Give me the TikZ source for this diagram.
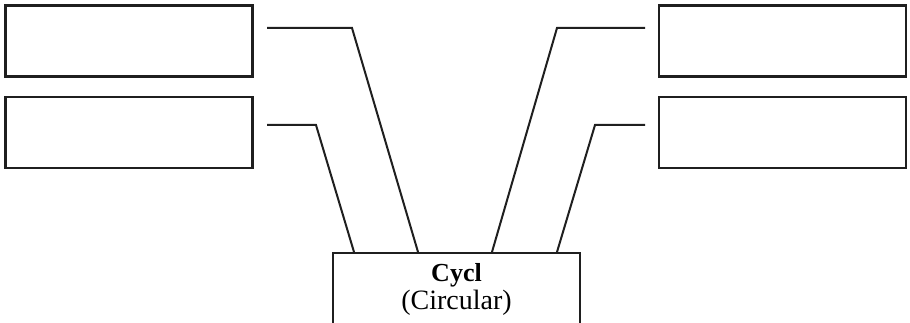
\documentclass[tikz,border=0pt]{standalone}
\usepackage{fontspec}
\setmainfont{Liberation Serif}
\begin{document}
\begin{tikzpicture}[x=1pt,y=-1pt,
  emptybox/.style={draw=black!88,line width=2.4pt,minimum width=247pt,minimum height=71pt,inner sep=0pt},
  link/.style={draw=black!88,line width=2pt},
  caption/.style={anchor=base,inner sep=0pt}]
\useasboundingbox (0,0) rectangle (910,323);
\clip (0,0) rectangle (910,323);
% boxes
\node[emptybox] (l1) at (129,41) {};
\node[emptybox] (l2) at (129,132.5) {};
\node[emptybox] (r1) at (782.5,41) {};
\node[emptybox] (r2) at (782.5,132.5) {};
\node[emptybox,minimum height=71pt] (cyc) at (456.5,288.5) {};
\node[caption] (t1) at (456.5,281) {\fontsize{26}{26}\selectfont\bfseries Cycl};
\node[caption] (t2) at (456.5,309.5) {\fontsize{28}{28}\selectfont (Circular)};
% free ends
\coordinate (a1) at (267,28);
\coordinate (a2) at (267,125);
\coordinate (b1) at (645,28);
\coordinate (b2) at (645,125);
% connectors
\draw[link] (a1) -- (352,28) -- (418,252);
\draw[link] (a2) -- (316,125) -- (354,252);
\draw[link] (b1) -- (557,28) -- (492,252);
\draw[link] (b2) -- (595,125) -- (557,252);
\end{tikzpicture}
\end{document}
